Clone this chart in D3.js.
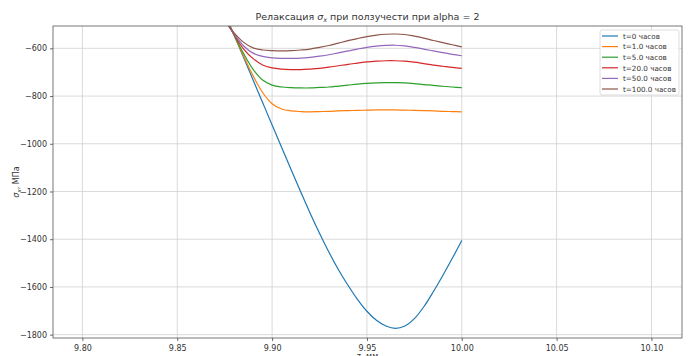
<!DOCTYPE html>
<html>
<head>
<meta charset="utf-8">
<script src="https://cdn.jsdelivr.net/npm/d3@7"></script>
<style>
  body { margin: 0; background: #fff; }
  svg text { font-family: "DejaVu Sans", sans-serif; fill: #333; }
</style>
</head>
<body>
<svg id="chart" width="692" height="356"></svg>
<script>
// z coordinate, mm
const zValues = [9.875, 9.880, 9.885, 9.890, 9.895, 9.900, 9.905, 9.910, 9.915, 9.920,
                 9.925, 9.930, 9.935, 9.940, 9.945, 9.950, 9.955, 9.960, 9.965, 9.970,
                 9.975, 9.980, 9.985, 9.990, 9.995, 10.000];

const seriesNames = ['t=0 часов', 't=1.0 часов', 't=5.0 часов',
                     't=20.0 часов', 't=50.0 часов', 't=100.0 часов'];

// sigma_x, MPa
const sigmaT0 = [-452, -545, -639, -733, -827, -921, -1015, -1108, -1200, -1290,
                 -1375, -1455, -1528, -1593, -1652, -1702, -1740, -1764, -1774, -1764,
                 -1733, -1683, -1620, -1552, -1480, -1405];
const sigmaT1 = [-455, -545, -632, -715, -785, -832, -854, -862, -865, -866,
                 -865, -864, -862, -861, -860, -859, -858, -858, -858, -859,
                 -860, -861, -862, -864, -865, -866];
const sigmaT5 = [-465, -545, -622, -688, -733, -754, -762, -765, -766, -766,
                 -764, -762, -758, -754, -750, -747, -745, -744, -744, -745,
                 -748, -752, -755, -759, -762, -765];
const sigmaT20 = [-475, -543, -603, -643, -670, -682, -687, -689, -689, -687,
                  -684, -679, -673, -667, -662, -657, -654, -652, -652, -654,
                  -658, -664, -670, -675, -680, -684];
const sigmaT50 = [-480, -540, -590, -620, -634, -640, -642, -642, -641, -638,
                  -633, -627, -619, -611, -603, -596, -591, -588, -587, -590,
                  -596, -603, -611, -618, -625, -631];
const sigmaT100 = [-485, -535, -575, -598, -607, -610, -611, -610, -607, -603,
                   -596, -588, -578, -568, -559, -551, -545, -541, -540, -542,
                   -549, -557, -567, -576, -585, -594];

const xTicks = [9.80, 9.85, 9.90, 9.95, 10.00, 10.05, 10.10];
const yTicks = [-1800, -1600, -1400, -1200, -1000, -800, -600];
const colors = ['#1f77b4', '#ff7f0e', '#2ca02c', '#d62728', '#9467bd', '#8c564b'];

const series = [sigmaT0, sigmaT1, sigmaT5, sigmaT20, sigmaT50, sigmaT100].map((vals, i) => ({
  name: seriesNames[i],
  color: colors[i],
  points: vals.map((v, j) => ({ z: zValues[j], s: v }))
}));

const margin = { top: 26, right: 10, bottom: 18, left: 53 };
const width = 692 - margin.left - margin.right;
const height = 356 - margin.top - margin.bottom;

const svg = d3.select('#chart');
const g = svg.append('g')
             .attr('transform', `translate(${margin.left},${margin.top})`);

const xScale = d3.scaleLinear().domain([9.7845, 10.1161]).range([0, width]);
const yScale = d3.scaleLinear().domain([-1814, -506.4]).range([height, 0]);

// grid
g.append('g')
 .selectAll('line')
 .data(xTicks)
 .join('line')
 .attr('x1', d => xScale(d)).attr('x2', d => xScale(d))
 .attr('y1', 0).attr('y2', height)
 .attr('stroke', '#d0d0d0').attr('stroke-width', 0.8);

g.append('g')
 .selectAll('line')
 .data(yTicks)
 .join('line')
 .attr('x1', 0).attr('x2', width)
 .attr('y1', d => yScale(d)).attr('y2', d => yScale(d))
 .attr('stroke', '#d0d0d0').attr('stroke-width', 0.8);

// axes
const fmtY = d => d3.format('d')(d).replace('-', '\u2212');
const xAxis = d3.axisBottom(xScale).tickValues(xTicks).tickFormat(d3.format('.2f'))
                .tickSize(3).tickPadding(4);
const yAxis = d3.axisLeft(yScale).tickValues(yTicks).tickFormat(fmtY)
                .tickSize(3).tickPadding(3);

const gx = g.append('g').attr('transform', `translate(0,${height})`).call(xAxis);
const gy = g.append('g').call(yAxis);
[gx, gy].forEach(a => {
  a.select('.domain').remove();
  a.selectAll('line').attr('stroke', '#444').attr('stroke-width', 0.8);
  a.selectAll('text').attr('font-size', 8).attr('fill', '#333')
   .style('font-family', '"DejaVu Sans", sans-serif');
});

// curves
g.append('clipPath').attr('id', 'plot-clip')
 .append('rect').attr('width', width).attr('height', height);

const line = d3.line().x(d => xScale(d.z)).y(d => yScale(d.s))
               .curve(d3.curveCatmullRom.alpha(0.5));

g.append('g').attr('clip-path', 'url(#plot-clip)')
 .selectAll('path')
 .data(series)
 .join('path')
 .attr('fill', 'none')
 .attr('stroke', d => d.color)
 .attr('stroke-width', 1.2)
 .attr('d', d => line(d.points));

// frame
g.append('rect')
 .attr('width', width).attr('height', height)
 .attr('fill', 'none').attr('stroke', '#555').attr('stroke-width', 0.8);

// title and labels
const title = svg.append('text')
                 .attr('x', margin.left + width / 2).attr('y', 20)
                 .attr('text-anchor', 'middle').attr('font-size', 9.5);
title.append('tspan').text('Релаксация ');
title.append('tspan').attr('font-style', 'italic').text('σ');
title.append('tspan').attr('font-style', 'italic').attr('font-size', 6.5).attr('dy', 2).text('x');
title.append('tspan').attr('dy', -2).text(' при ползучести при alpha = 2');

const yTitle = svg.append('text')
                  .attr('text-anchor', 'middle').attr('font-size', 8)
                  .attr('transform', `translate(19,${margin.top + height / 2}) rotate(-90)`);
yTitle.append('tspan').attr('font-style', 'italic').text('σ');
yTitle.append('tspan').attr('font-style', 'italic').attr('font-size', 5.5).attr('dy', 2).text('x');
yTitle.append('tspan').attr('dy', -2).text(', МПа');

// x title sits at the very bottom edge, as in the source figure
svg.append('text')
   .attr('x', margin.left + width / 2).attr('y', 359)
   .attr('text-anchor', 'middle').attr('font-size', 8)
   .text('z, мм');

// legend
const legend = g.append('g').attr('transform', `translate(${600 - margin.left},${30 - margin.top})`);
legend.append('rect')
      .attr('width', 79).attr('height', 65).attr('rx', 2)
      .attr('fill', '#fff').attr('fill-opacity', 0.85)
      .attr('stroke', '#d6d6d6').attr('stroke-width', 0.8);

const rows = legend.selectAll('g.row')
                   .data(series)
                   .join('g')
                   .attr('class', 'row')
                   .attr('transform', (d, i) => `translate(0,${6 + i * 10.6})`);
rows.append('line')
    .attr('x1', 2).attr('x2', 18).attr('y1', 0).attr('y2', 0)
    .attr('stroke', d => d.color).attr('stroke-width', 1.2);
rows.append('text')
    .attr('x', 23).attr('y', 2.8)
    .attr('font-size', 7.2)
    .text(d => d.name);
</script>
</body>
</html>
